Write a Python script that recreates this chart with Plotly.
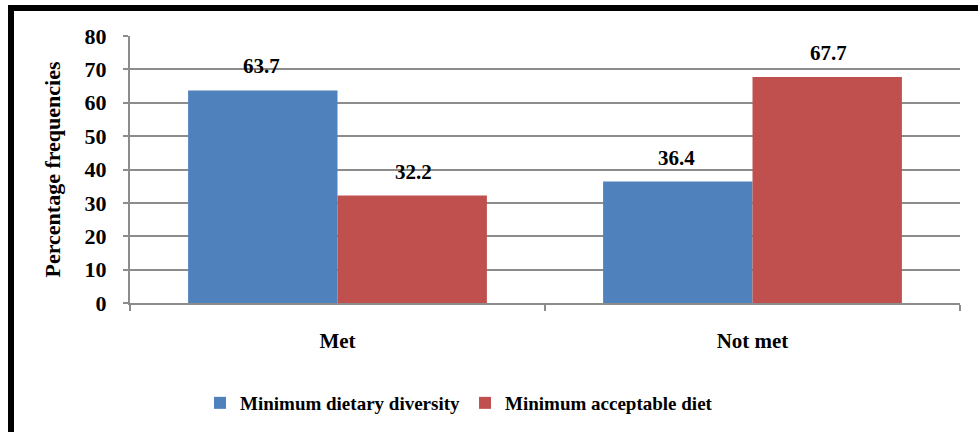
import plotly.graph_objects as go

# Data
categories = ["Met", "Not met"]
series_names = ["Minimum dietary diversity", "Minimum acceptable diet"]
dietary_diversity = [63.7, 36.4]
acceptable_diet = [32.2, 67.7]
y_ticks = [0, 10, 20, 30, 40, 50, 60, 70, 80]

colors = ["#4F81BD", "#C0504D"]
FONT = "Liberation Serif"

W, H = 978, 432
L, R, T, B = 130, 18, 36, 128
pw, ph = W - L - R, H - T - B


def px_x(x):
    return (x - L) / pw


def px_y(y):
    return 1 - (y - T) / ph


fig = go.Figure()
for name, vals, col in zip(series_names, [dietary_diversity, acceptable_diet], colors):
    fig.add_trace(go.Bar(
        x=categories, y=vals, name=f"<b>{name}</b>",
        marker=dict(color=col, line=dict(width=0)),
    ))

# value labels above each bar
annotations = []
for i, vals in enumerate([dietary_diversity, acceptable_diet]):
    for j, v in enumerate(vals):
        annotations.append(dict(
            x=j + (-0.182 if i == 0 else 0.182), xref="x", y=v, yref="y",
            text=f"<b>{v}</b>", showarrow=False, yanchor="bottom", yshift=10,
            font=dict(family=FONT, size=21, color="black"),
        ))

fig.update_layout(
    width=W, height=H,
    margin=dict(l=L, r=R, t=T, b=B),
    paper_bgcolor="white", plot_bgcolor="white",
    barmode="group", bargap=0.28, bargroupgap=0,
    font=dict(family=FONT, color="black"),
    annotations=annotations,
    legend=dict(
        orientation="h", x=px_x(200), xanchor="left", y=px_y(403), yanchor="middle",
        font=dict(family=FONT, size=19, color="black"),
        itemwidth=30, traceorder="normal",
    ),
    shapes=[
        # chart frame
        dict(type="line", xref="paper", yref="paper",
             x0=px_x(11), y0=px_y(8), x1=px_x(990), y1=px_y(8),
             line=dict(color="black", width=6)),
        dict(type="line", xref="paper", yref="paper",
             x0=px_x(11), y0=px_y(5), x1=px_x(11), y1=px_y(440),
             line=dict(color="black", width=6)),
    ],
)

fig.update_xaxes(
    type="category", showgrid=False,
    showline=True, linecolor="#8c8c8c", linewidth=2,
    ticks="outside", tickson="boundaries", ticklen=6, tickwidth=2, tickcolor="#8c8c8c",
    tickfont=dict(family=FONT, size=21, color="black"),
    ticklabelstandoff=18,
    tickvals=categories, ticktext=[f"<b>{c}</b>" for c in categories],
)
fig.update_yaxes(
    range=[0, 80], tickvals=y_ticks, ticktext=[f"<b>{t}</b>" for t in y_ticks],
    showgrid=True, gridcolor="#8c8c8c", gridwidth=2,
    showline=True, linecolor="#8c8c8c", linewidth=2,
    ticks="outside", ticklen=5, tickwidth=2, tickcolor="#8c8c8c",
    tickfont=dict(family=FONT, size=22, color="black"),
    ticklabelstandoff=12,
    zeroline=False,
    title=dict(text="<b>Percentage frequencies</b>",
               font=dict(family=FONT, size=22, color="black"), standoff=18),
)

fig.write_html("out.html")
